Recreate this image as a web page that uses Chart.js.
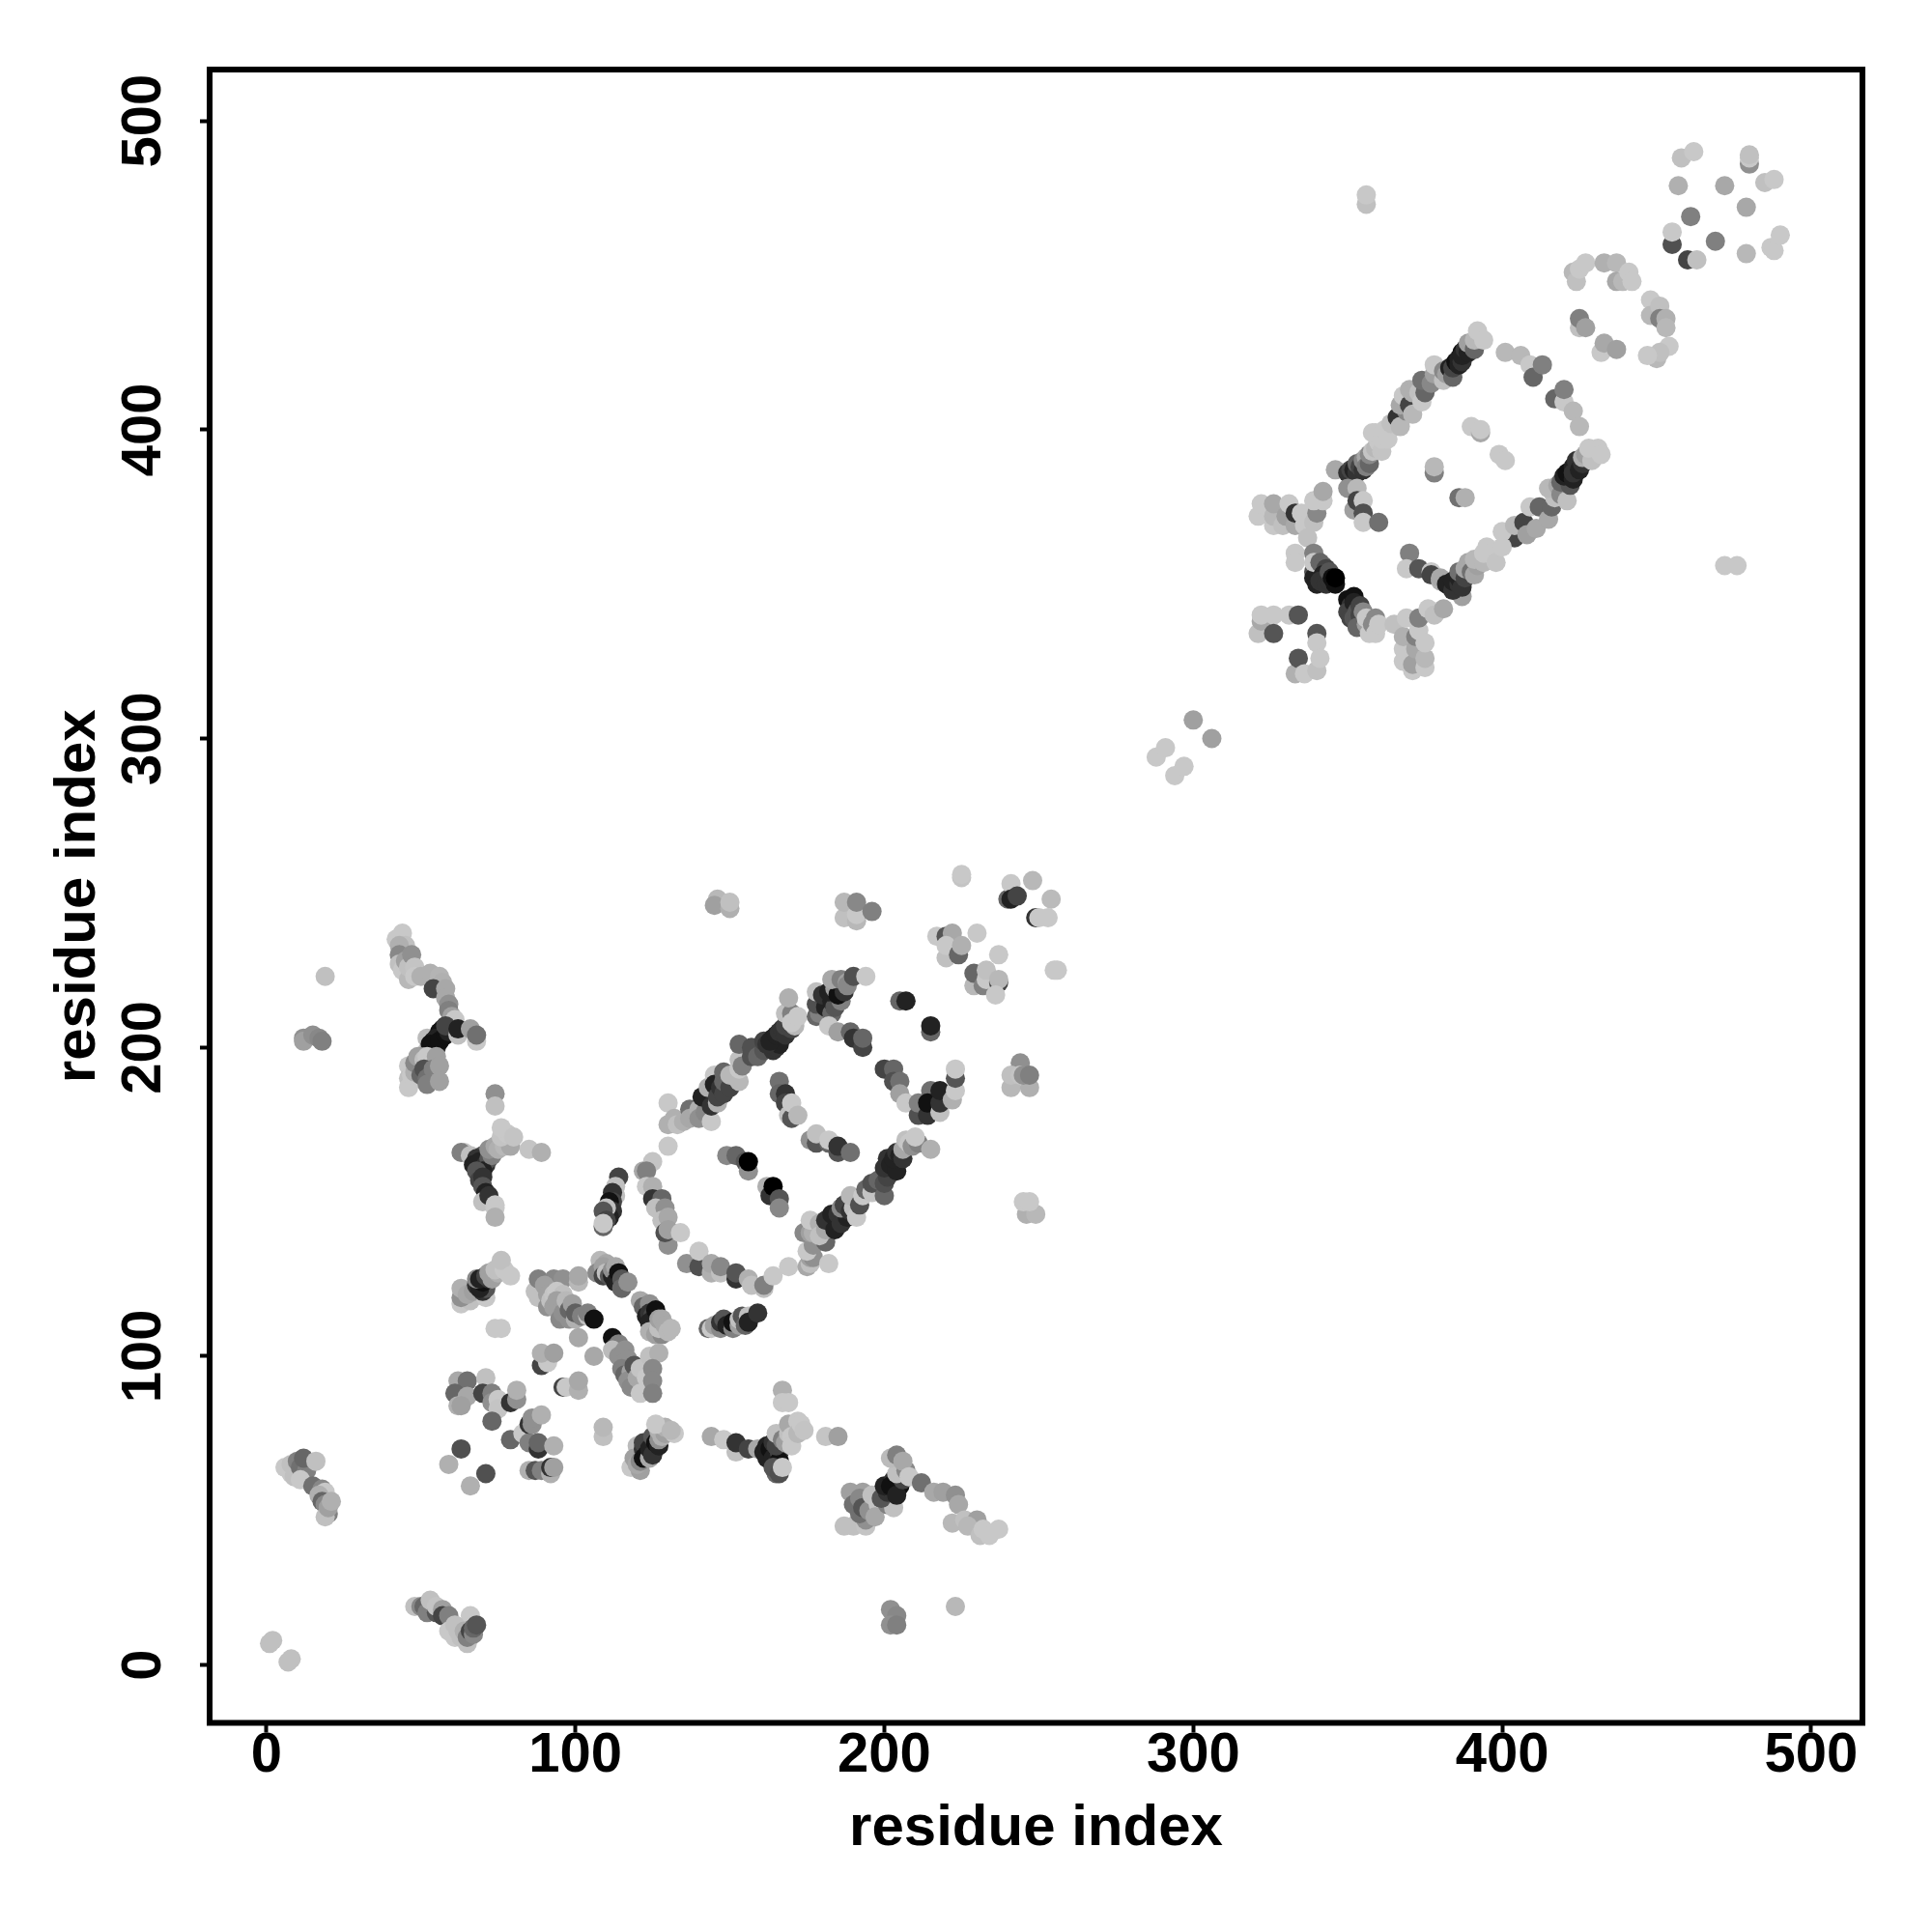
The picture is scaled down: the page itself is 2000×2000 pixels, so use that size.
<!DOCTYPE html>
<html>
<head>
<meta charset="utf-8">
<script src="https://cdn.jsdelivr.net/npm/chart.js@4"></script>
<style>
body { margin: 0; background: #fff; }
</style>
</head>
<body>
<canvas id="contactMap" width="2000" height="2000"></canvas>
<script>
const tickValues = [0, 100, 200, 300, 400, 500];
const axisLabel = 'residue index';

// contacts, each entry is [residue i, residue j, grey level]
const nearOrigin = [[1,7,192],[2,8,192],[7,1,192],[8,2,192]];
const helixA = [[6,64,200],[8,62,200],[8,65,192],[9,61,192],[10,66,128],[11,64,112],[13,63,128],[12,67,102],[16,66,192],[11,60,200],[15,58,112],[18,57,136],[19,56,200],[17,55,176],[18,53,102],[19,52,136],[20,49,128],[19,48,192],[20,51,160],[21,53,176]];
const helixAMirror = [[48,19,192],[50,19,136],[51,19,102],[52,17,128],[53,21,192],[55,17,85],[55,19,196],[57,18,160],[57,16,68],[59,16,128],[66,16,200],[59,11,200],[61,13,192],[61,9,200],[62,11,192],[63,9,192],[64,11,176],[65,7,192],[65,9,128],[66,11,68],[67,10,136],[67,12,102],[68,13,85]];
const farLeft = [[12,203,144],[12,202,160],[15,204,144],[17,203,136],[18,202,128],[19,223,192]];
const bottomGroup = [[202,18,144],[204,16,136],[202,13,144],[204,13,128],[223,19,184]];

const armTop = [[42,235,200],[44,237,200],[45,233,192],[43,233,176],[43,230,136],[43,227,192],[44,225,200],[46,222,184],[45,228,160],[46,226,192],[47,230,144],[48,226,196],[48,223,200],[50,223,176],[53,224,176],[56,223,180],[57,221,176],[54,219,68],[58,219,168],[58,216,168],[59,214,144],[59,212,128],[60,210,160],[60,207,160],[61,209,200]];
const armMid = [[52,203,187],[52,199,192],[53,198,128],[54,199,51],[57,206,51],[56,205,17],[55,203,34],[54,202,34],[55,200,51],[53,201,17],[56,202,17],[58,204,17],[59,205,34],[58,207,68],[68,202,200],[62,204,192],[62,206,34],[66,206,160],[68,204,112]];
const armLow = [[46,194,200],[46,190,192],[46,187,200],[47,191,200],[48,192,176],[48,195,136],[50,197,128],[49,197,160],[51,196,192],[52,197,200],[55,197,160],[50,191,102],[51,193,80],[52,190,112],[52,188,128],[54,193,128],[56,194,160],[56,189,160]];
const strandB = [[74,185,144],[74,181,192],[64,166,200],[63,166,128],[66,165,192],[70,165,85],[68,164,51],[67,162,34],[69,163,34],[71,162,51],[72,164,85],[70,160,34],[68,160,85],[69,157,68],[70,158,51],[73,165,128],[72,167,144],[74,168,168],[75,167,176],[77,168,184],[79,168,168],[76,171,196],[78,172,200],[76,174,200],[80,171,196],[85,167,196],[89,166,176],[70,155,85],[71,153,34],[70,150,192],[72,152,51],[74,149,200],[74,148,200],[74,145,176]];
const strandC = [[63,117,200],[66,118,192],[63,119,144],[63,122,176],[65,120,168],[67,121,160],[71,119,200],[70,121,51],[71,122,85],[68,123,51],[69,122,34],[70,124,17],[68,125,136],[69,125,34],[72,125,51],[71,126,68],[72,127,160],[73,125,160],[75,127,176],[74,128,192],[77,128,200],[76,131,192],[79,126,200]];
const crossD = [[87,121,192],[88,119,192],[88,125,128],[93,125,136],[96,125,144],[101,124,184],[101,126,168],[90,123,160],[91,120,160],[91,116,144],[92,118,192],[93,120,196],[94,121,200],[96,120,192],[93,116,160],[94,118,160],[96,117,160],[95,112,136],[96,114,144],[97,118,184],[98,112,144],[98,115,102],[99,117,160],[100,112,176],[100,114,96],[102,113,128],[104,113,192],[104,114,128],[106,112,17]];
const crossE = [[108,131,184],[110,130,168],[107,127,136],[109,129,160],[109,126,68],[110,127,192],[111,126,85],[112,126,34],[112,128,144],[113,129,168],[113,124,34],[114,127,17],[115,125,85],[115,122,102],[117,124,144]];
const crossF = [[121,118,168],[122,116,102],[124,117,144],[123,113,34],[124,114,51],[125,113,68],[124,111,34],[126,115,17],[124,108,176],[126,107,160],[128,107,136],[127,109,192],[127,112,160],[128,112,168],[129,110,168],[130,108,184],[131,109,184]];
const crossG = [[112,106,17],[113,103,68],[114,104,128],[112,102,187],[114,100,144],[116,102,144],[117,99,144],[115,96,128],[116,94,102],[118,95,160],[117,92,144],[118,90,136],[119,97,136],[119,97,85],[120,93,168],[121,96,196],[122,91,168],[121,88,200],[123,93,200],[124,100,192],[127,101,176],[125,96,136],[125,92,136],[125,88,128]];
const scatterH = [[76,109,200],[74,109,200],[101,106,168],[106,100,168],[89,97,68],[91,98,200],[89,101,176],[93,101,160],[96,90,68],[97,90,200],[101,89,176],[101,92,168]];
const scatterI = [[62,92,168],[65,92,112],[61,88,102],[65,87,168],[62,84,176],[63,84,160],[71,93,192],[70,88,68],[73,88,128],[73,85,144],[75,86,200],[75,83,196],[79,85,51],[81,86,144],[81,89,176],[73,79,102],[79,73,102],[63,70,80],[59,65,176],[71,62,80],[66,58,176]];
const scatterJ = [[83,75,200],[85,74,200],[85,72,128],[85,78,51],[86,78,144],[86,80,144],[89,81,176],[88,70,51],[88,72,102],[93,71,176],[85,63,176],[87,63,85],[89,63,128],[92,62,176],[92,64,51],[93,64,160]];
const strandK = [[109,74,192],[109,77,184],[118,64,200],[121,63,160],[120,71,187],[119,67,160],[120,65,168],[122,70,51],[121,66,136],[122,72,68],[122,67,17],[123,68,17],[124,67,168],[124,70,34],[125,68,51],[125,74,85],[126,72,17],[127,71,34],[127,73,144],[127,76,176],[128,74,176],[129,75,160],[129,77,176],[126,78,200],[132,75,200],[131,76,184]];
const strandL = [[143,109,102],[144,109,200],[145,110,160],[147,109,136],[147,111,51],[148,112,85],[149,110,34],[151,109,128],[151,111,17],[153,110,160],[153,112,192],[154,113,85],[155,110,102],[156,113,192],[156,111,34],[159,114,51]];
const crossM = [[144,74,168],[148,73,200],[152,69,192],[152,72,51],[156,70,68],[159,70,168],[161,69,34],[162,67,34],[162,71,34],[163,70,17],[164,67,34],[164,72,51],[166,69,68],[166,66,17],[165,62,102],[164,64,85],[166,62,80],[167,64,200],[165,71,68],[165,75,192],[167,73,128],[168,72,160],[167,89,176],[167,85,200],[169,85,200],[169,75,192],[169,78,168],[170,74,200],[170,71,200],[172,79,200],[172,75,184],[173,78,200],[174,76,196],[181,74,196],[185,74,160]];
const crossN = [[187,45,192],[190,45,192],[194,45,196],[194,47,144],[189,56,160],[193,56,160],[190,52,112],[192,49,112],[192,54,136],[193,51,85],[195,50,144],[196,55,192],[198,52,196],[197,48,168],[201,52,128],[203,51,192],[199,54,85],[201,56,51],[200,58,34],[203,60,51],[202,58,17],[205,58,17],[204,55,34],[206,60,68],[204,62,192],[207,63,136],[202,67,187],[204,68,128],[206,66,168],[208,61,200],[212,59,112],[216,56,168],[219,56,160],[223,55,144],[224,52,168],[222,46,184],[226,47,192],[230,47,160],[227,45,184],[231,42,192],[232,44,200],[234,42,200],[237,44,200]];
const stemO = [[114,158,68],[113,155,192],[113,152,192],[112,153,51],[112,150,68],[111,150,17],[112,147,51],[111,145,34],[110,148,192],[109,147,85],[110,144,68],[109,142,102],[109,143,200]];

const ringLeft = [[130,168,200],[122,160,168],[125,163,196],[123,160,128],[123,155,200],[125,155,176],[125,151,51],[128,151,102],[126,148,192],[129,148,144],[128,144,192],[130,145,168],[130,136,144],[129,140,80],[130,141,160],[134,140,200]];
const ringBottom = [[136,130,144],[140,129,80],[140,134,200],[144,127,176],[144,130,168],[147,127,192],[147,129,136],[152,125,51],[152,127,85],[156,125,176],[157,123,192],[161,122,192],[161,123,128],[164,126,200],[169,129,200]];
const ringLower = [[175,129,168],[176,130,192],[176,132,160],[177,132,144],[175,134,200],[182,130,200],[174,140,136],[177,136,144],[176,140,160],[177,140,176],[181,137,102],[176,144,200],[179,143,176],[179,139,192],[181,141,168],[181,144,51],[184,141,34],[183,146,34],[185,146,51],[186,143,51],[188,145,34],[186,148,136],[187,149,68],[189,147,51],[190,148,192],[189,152,184],[191,145,200],[192,149,80],[193,152,200],[194,154,102],[196,153,196],[196,156,80],[198,157,102],[200,152,102],[200,156,80],[201,158,68],[200,161,51],[201,164,51],[202,162,34],[204,160,34],[203,164,34],[204,166,51],[205,165,34],[206,164,51],[206,167,168],[207,170,192],[208,169,200],[209,168,144],[211,169,128],[210,171,200],[215,167,176]];
const ringInnerA = [[149,165,136],[152,165,102],[155,163,85],[156,160,144],[156,163,0],[162,155,176],[163,152,51],[164,155,0],[166,151,85],[166,148,136]];
const ringInnerB = [[166,189,112],[166,185,102],[168,185,51],[168,182,68],[169,178,192],[170,177,85],[170,182,200],[172,178,184],[176,170,144],[178,169,85],[178,172,192],[182,169,102],[182,170,200],[185,166,85],[185,168,51],[189,166,112]];
const ringUpper = [[130,182,200],[130,175,176],[132,177,176],[133,175,192],[135,176,176],[137,180,112],[137,177,168],[140,180,176],[140,177,144],[142,179,136],[144,176,200],[141,184,34],[144,181,51],[146,182,176],[143,187,176],[145,191,200],[145,188,34],[146,184,68],[147,187,51],[148,185,68],[148,189,102],[148,192,102],[150,187,68],[150,191,184],[153,189,184],[153,193,200],[153,196,192],[154,194,128],[153,201,102],[157,197,80],[157,200,80],[159,197,102],[161,199,85],[161,202,68],[164,199,51],[164,203,34],[165,200,51],[166,201,34],[162,201,51],[163,202,34],[165,204,34],[166,205,51],[167,206,51],[168,204,51],[168,207,68],[170,206,68],[171,207,184],[168,211,192],[170,211,128],[169,216,176],[170,208,200],[172,210,200]];
const ringCorner = [[178,210,102],[179,211,128],[178,214,80],[178,218,192],[181,213,34],[180,217,51],[183,211,102],[183,215,34],[184,213,85],[182,218,34],[186,215,128],[184,219,160],[185,217,17],[187,218,51],[183,222,168],[186,222,128],[188,221,160],[188,220,136],[190,223,80],[194,223,200],[182,207,200],[185,205,160],[189,205,102],[190,203,51],[193,200,68],[193,203,102],[205,215,102],[207,215,34],[215,205,102],[215,207,34]];
const ringRight = [[200,193,68],[203,193,102],[203,189,80],[205,189,112],[205,185,160],[207,182,200],[211,178,80],[211,182,128],[214,178,51],[215,186,112],[214,182,17],[218,179,192],[218,182,51],[218,186,34],[222,183,176],[223,186,200],[223,190,85],[223,193,200]];
const topLeftBlobs = [[146,248,184],[145,246,160],[150,245,176],[150,247,192],[187,242,192],[187,247,184],[191,241,184],[191,243,200],[191,247,136],[196,244,128],[225,255,196],[225,256,200]];
const topRightBlobs = [[240,248,102],[241,253,200],[248,254,184],[241,248,34],[243,249,68],[249,242,51],[250,242,200],[253,242,200],[254,248,187],[217,236,200],[220,236,85],[222,237,168],[220,229,192],[220,233,200],[224,230,102],[225,233,176],[230,237,200],[237,230,200],[229,220,184],[229,224,102],[232,220,128],[233,222,200],[233,225,192],[237,221,68],[237,222,184],[236,217,200],[255,225,200],[256,225,200]];
const sideBlobs = [[244,195,144],[241,187,184],[247,187,176],[241,191,192],[244,191,196],[245,191,144],[247,191,128],[246,146,176],[249,146,184],[245,150,200],[247,150,200]];

const lowerPair = [[288,294,200],[291,297,200],[294,288,200],[297,291,200],[300,306,160],[306,300,160]];
const loneUpper = [[356,473,192],[356,476,200],[472,356,200],[476,356,200]];
const wingUpper = [[321,372,200],[322,376,200],[326,369,200],[326,372,184],[326,376,168],[329,369,192],[330,372,160],[331,376,200],[333,369,168],[333,373,51],[335,373,200],[336,369,200],[339,370,192],[340,373,136],[339,377,200],[342,377,200],[342,380,168]];
const wingLower = [[321,334,192],[322,338,168],[322,340,200],[326,340,200],[326,334,85],[331,340,200],[334,340,85],[340,334,85],[340,331,200],[333,321,176],[334,326,85],[336,321,200],[340,322,192],[341,326,200]];
const boxLeft = [[337,365,192],[333,360,200],[333,357,200],[339,354,85],[339,352,34],[340,350,34],[339,360,128],[339,357,200],[341,357,102],[342,356,102],[343,355,68],[342,353,34],[341,351,51],[343,350,51],[344,351,51],[344,354,85],[345,352,17],[346,350,17],[346,352,0]];
const boxBottomLeft = [[350,345,17],[351,343,51],[350,341,68],[352,346,17],[352,344,34],[351,339,68],[352,339,85],[353,341,85],[353,337,85],[354,343,68],[354,340,68],[355,341,136],[353,336,102],[356,337,160],[356,339,200],[357,334,200],[358,337,136],[359,334,200],[359,339,136],[360,337,200],[365,337,192]];
const boxStemLow = [[368,325,200],[368,329,200],[368,333,176],[371,322,200],[371,324,160],[372,329,168],[372,333,128],[373,335,200],[375,323,200],[375,326,184],[375,331,200],[369,339,200],[373,339,128],[376,342,200],[378,340,192],[381,342,168]];
const boxUpperLeft = [[346,387,168],[350,386,51],[351,387,68],[352,387,34],[353,386,51],[353,389,102],[354,388,68],[355,387,51],[355,390,136],[356,391,168],[356,388,128],[357,389,102],[357,392,136],[358,393,196],[359,394,184],[360,396,200],[361,393,196],[358,399,200],[359,399,200],[361,397,200],[362,400,200],[363,397,200],[364,402,192],[350,381,144],[353,381,184],[352,374,160],[353,377,68],[355,377,200],[355,373,80],[355,370,200],[360,370,112]];
const boxUpper = [[366,404,51],[367,401,184],[369,406,136],[367,408,168],[368,411,200],[370,408,68],[371,405,184],[370,413,176],[371,412,176],[373,412,192],[374,409,200],[375,412,102],[374,416,112],[377,415,136],[378,418,160],[378,421,200],[381,416,192],[381,419,136],[382,418,160],[383,420,34],[384,417,102],[384,420,68],[385,422,17],[386,421,34],[386,423,34],[387,422,51],[387,425,17],[387,424,34],[388,426,51],[389,425,34],[389,428,160],[391,426,102],[391,429,184],[392,432,200],[394,429,200]];
const boxInner = [[378,386,128],[378,388,184],[386,378,112],[388,378,176],[390,401,200],[393,399,168],[393,400,200],[399,392,200],[401,390,200]];
const boxRightTop = [[401,425,184],[406,424,184],[409,421,200],[410,417,102],[413,421,128],[417,410,102],[420,409,200],[420,413,128],[423,406,184],[425,401,184]];
const boxRight = [[404,365,68],[400,367,200],[404,369,184],[407,370,68],[408,366,160],[409,375,200],[411,368,168],[412,375,102],[415,371,168],[416,375,102],[417,378,192],[415,381,184],[418,382,168],[419,379,136],[419,383,102],[421,377,192],[422,382,85],[420,385,34],[421,386,17],[423,384,34],[423,388,34],[423,386,51],[424,390,51],[425,387,34],[426,389,51],[426,391,176],[427,392,160],[429,393,200],[429,390,192],[428,394,200],[431,394,200],[432,392,200]];
const boxBottom = [[370,360,128],[369,355,200],[373,355,85],[377,354,200],[377,353,68],[380,351,176],[380,352,168],[387,346,160],[382,350,34],[384,348,51],[385,351,51],[384,351,34],[386,350,51],[386,352,34],[387,349,51],[386,354,112],[388,352,68],[388,355,168],[389,357,168],[390,354,112],[391,353,168],[392,356,160],[391,358,184],[394,357,184],[394,360,200],[395,362,200],[396,360,200],[398,357,196],[400,362,200]];
const arcGroup = [[423,451,184],[424,448,192],[425,452,200],[427,454,200],[433,454,176],[437,454,184],[437,448,168],[439,448,184],[441,451,200],[442,448,200],[448,442,200],[448,437,184],[451,440,192],[451,436,128],[453,436,176],[453,433,184],[454,427,200],[450,423,184],[451,425,192],[447,424,200],[425,433,192],[425,436,128],[427,433,160],[432,425,200],[433,428,168],[437,426,160]];
const cornerGroup = [[458,488,192],[462,490,200],[480,486,144],[480,488,200],[480,489,192],[457,479,176],[472,479,168],[485,480,192],[488,481,200],[461,469,128],[479,472,168],[455,460,80],[455,464,200],[469,461,128],[460,455,68],[463,455,192],[479,457,184],[487,459,200],[488,458,200],[490,463,200]];

const contactGroups = [nearOrigin, helixA, helixAMirror, farLeft, bottomGroup, armTop, armMid, armLow, strandB, strandC, crossD, crossE, crossF, crossG, scatterH, scatterI, scatterJ, strandK, strandL, crossM, crossN, stemO, ringLeft, ringBottom, ringLower, ringInnerA, ringInnerB, ringUpper, ringCorner, ringRight, topLeftBlobs, topRightBlobs, sideBlobs, lowerPair, loneUpper, wingUpper, wingLower, boxLeft, boxBottomLeft, boxStemLow, boxUpperLeft, boxUpper, boxInner, boxRightTop, boxRight, boxBottom, arcGroup, cornerGroup];
const contacts = contactGroups.flat();

// outer frame, chart.js only gives the axis side otherwise
const frameBox = {
    id: 'frameBox',
    afterDraw: function (chart) {
        const ctx = chart.ctx;
        const area = chart.chartArea;
        ctx.save();
        ctx.strokeStyle = '#000';
        ctx.lineWidth = 6;
        ctx.strokeRect(area.left, area.top, area.right - area.left, area.bottom - area.top);
        ctx.restore();
    }
};

const tickFont = { family: '"Liberation Sans", Arial, sans-serif', size: 58, weight: 'bold' };
const titleFont = { family: '"Liberation Sans", Arial, sans-serif', size: 60, weight: 'bold' };

const chart = new Chart(document.getElementById('contactMap').getContext('2d'), {
    type: 'scatter',
    data: {
        datasets: [{
            label: 'contacts',
            data: contacts.map(c => ({ x: c[0], y: c[1] })),
            backgroundColor: contacts.map(c => `rgb(${c[2]},${c[2]},${c[2]})`),
            borderWidth: 0,
            pointRadius: 10,
            pointHoverRadius: 10
        }]
    },
    options: {
        responsive: false,
        animation: false,
        layout: { padding: { top: 72, right: 72, bottom: 0, left: 0 } },
        plugins: { legend: { display: false }, tooltip: { enabled: false } },
        scales: {
            x: {
                type: 'linear',
                min: -18.4,
                max: 516.6,
                afterBuildTicks: axis => { axis.ticks = tickValues.map(v => ({ value: v })); },
                afterFit: axis => { axis.height = 216.5; },
                grid: { drawOnChartArea: false, drawTicks: true, tickLength: 10, tickWidth: 4, tickColor: '#000' },
                border: { display: false },
                ticks: { color: '#000', font: tickFont, padding: -10, maxRotation: 0, minRotation: 0 },
                title: { display: true, text: axisLabel, color: '#000', font: titleFont, padding: { top: 0, bottom: 71 } }
            },
            y: {
                type: 'linear',
                min: -18.7,
                max: 516.6,
                afterBuildTicks: axis => { axis.ticks = tickValues.map(v => ({ value: v })); },
                afterFit: axis => { axis.width = 217; },
                grid: { drawOnChartArea: false, drawTicks: true, tickLength: 10, tickWidth: 4, tickColor: '#000' },
                border: { display: false },
                ticks: { color: '#000', font: tickFont, padding: 9, minRotation: 90, maxRotation: 90, crossAlign: 'center' },
                title: { display: true, text: axisLabel, color: '#000', font: titleFont, padding: { top: 45, bottom: 0 } }
            }
        }
    },
    plugins: [frameBox]
});
</script>
</body>
</html>
